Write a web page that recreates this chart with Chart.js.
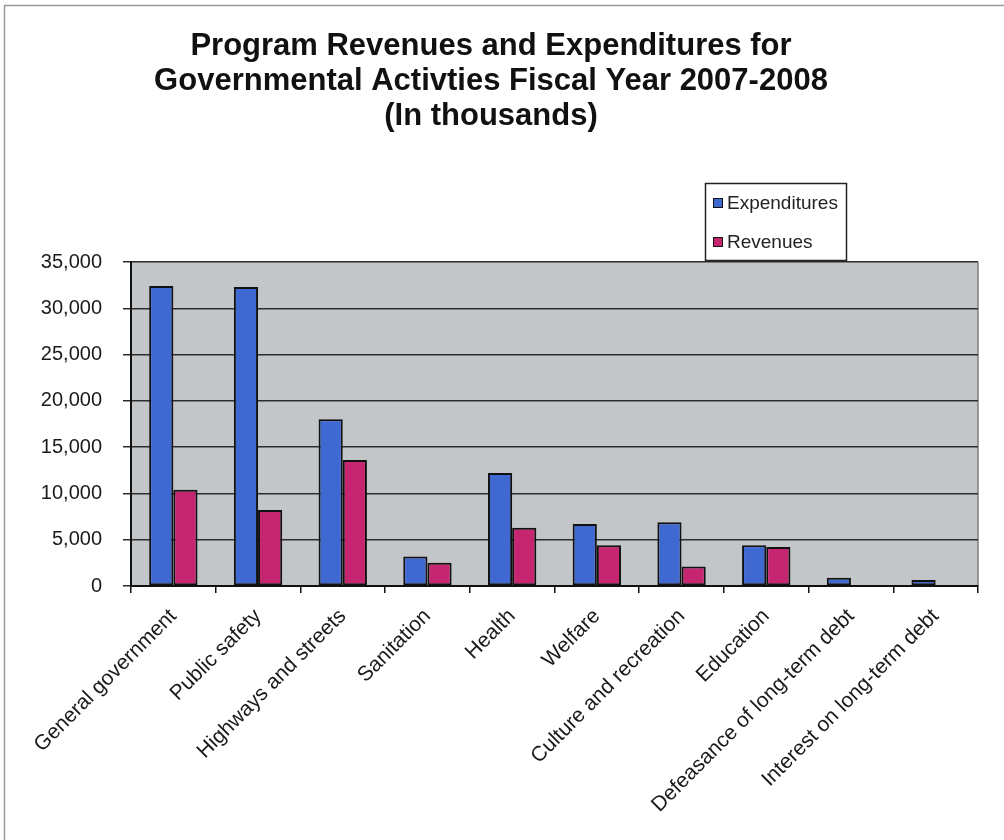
<!DOCTYPE html>
<html>
<head>
<meta charset="utf-8">
<script src="https://cdn.jsdelivr.net/npm/chart.js@4/dist/chart.umd.min.js"></script>
<style>
    html, body { margin: 0; padding: 0; background: #fff; }
    #wrap { width: 1004px; height: 840px; }
</style>
</head>
<body>
<div id="wrap"><canvas id="programChart" width="1004" height="840"></canvas></div>
<script>
const categories = [
    'General government', 'Public safety', 'Highways and streets', 'Sanitation', 'Health',
    'Welfare', 'Culture and recreation', 'Education', 'Defeasance of long-term debt', 'Interest on long-term debt'
];
const expenditures = [32400, 32300, 18000, 3200, 12200, 6700, 6900, 4400, 900, 650];
const revenues = [10400, 8200, 13600, 2500, 6300, 4400, 2100, 4200, 0, 0];
const yTicks = [0, 5000, 10000, 15000, 20000, 25000, 30000, 35000];
const titleLines = [
    'Program Revenues and Expenditures for',
    'Governmental Activties Fiscal Year 2007-2008',
    '(In thousands)'
];

const fontFamily = "'Liberation Sans', Arial, sans-serif";

// grey plot area, outer frame and the title
const chartFrame = {
    id: 'chartFrame',
    beforeDraw(chart) {
        const ctx = chart.ctx;
        const a = chart.chartArea;
        ctx.save();
        ctx.fillStyle = '#ffffff';
        ctx.fillRect(0, 0, chart.width, chart.height);
        ctx.strokeStyle = '#9a9a9a';
        ctx.lineWidth = 1.5;
        ctx.beginPath();
        ctx.moveTo(4.5, chart.height);
        ctx.lineTo(4.5, 5.5);
        ctx.lineTo(chart.width, 5.5);
        ctx.stroke();

        ctx.fillStyle = '#c3c6c8';
        ctx.fillRect(a.left, a.top, a.right - a.left, a.bottom - a.top);
        ctx.strokeStyle = '#7c7c7c';
        ctx.lineWidth = 1.5;
        ctx.beginPath();
        ctx.moveTo(a.right, a.top);
        ctx.lineTo(a.right, a.bottom);
        ctx.stroke();

        ctx.fillStyle = '#111';
        ctx.font = 'bold 31px ' + fontFamily;
        ctx.textAlign = 'center';
        ctx.textBaseline = 'alphabetic';
        titleLines.forEach((line, i) => {
            ctx.fillText(line, 491, 55 + i * 35);
        });
        ctx.restore();
    }
};

// boxed legend above the plot, one entry per row
const boxLegend = {
    id: 'boxLegend',
    afterDraw(chart) {
        const ctx = chart.ctx;
        ctx.save();
        ctx.fillStyle = '#fff';
        ctx.fillRect(705, 183, 142, 77);
        ctx.strokeStyle = '#222';
        ctx.lineWidth = 1.5;
        ctx.strokeRect(705.5, 183.5, 141, 77);
        ctx.font = '19px ' + fontFamily;
        ctx.textBaseline = 'middle';
        ctx.textAlign = 'left';
        chart.data.datasets.forEach((ds, i) => {
            const y = 203 + i * 39;
            ctx.fillStyle = ds.backgroundColor;
            ctx.fillRect(713, y - 5, 10, 10);
            ctx.strokeStyle = '#111';
            ctx.lineWidth = 1;
            ctx.strokeRect(713.5, y - 4.5, 9, 9);
            ctx.fillStyle = '#222';
            ctx.fillText(ds.label, 727, y + 1);
        });
        ctx.restore();
    }
};

const ctx = document.getElementById('programChart').getContext('2d');
const myChart = new Chart(ctx, {
    type: 'bar',
    plugins: [chartFrame, boxLegend],
    data: {
        labels: categories,
        datasets: [
            {
                label: 'Expenditures',
                data: expenditures,
                backgroundColor: '#3f68d1',
                borderColor: '#111',
                borderWidth: 2,
                borderSkipped: false,
                categoryPercentage: 0.571,
                barPercentage: 1.0
            },
            {
                label: 'Revenues',
                data: revenues,
                backgroundColor: '#c62570',
                borderColor: '#111',
                borderWidth: 2,
                borderSkipped: false,
                categoryPercentage: 0.571,
                barPercentage: 1.0
            }
        ]
    },
    options: {
        responsive: false,
        animation: false,
        layout: {
            padding: { top: 262, left: 0, right: 26, bottom: 0 }
        },
        plugins: {
            legend: { display: false },
            title: { display: false },
            tooltip: { enabled: false }
        },
        scales: {
            x: {
                offset: true,
                grid: {
                    offset: true,
                    drawOnChartArea: false,
                    drawTicks: true,
                    tickLength: 7,
                    color: '#111',
                    lineWidth: 1.5
                },
                border: { color: '#111', width: 2 },
                ticks: {
                    autoSkip: false,
                    minRotation: 45,
                    maxRotation: 45,
                    padding: 11,
                    color: '#1a1a1a',
                    font: { family: fontFamily, size: 21 }
                },
                afterFit(scale) {
                    scale.height = 254;
                }
            },
            y: {
                min: 0,
                max: 35000,
                afterBuildTicks(scale) {
                    scale.ticks = yTicks.map(v => ({ value: v }));
                },
                grid: {
                    color: '#2c2c2c',
                    lineWidth: 1.5,
                    tickLength: 8
                },
                border: { color: '#111', width: 2 },
                ticks: {
                    padding: 21,
                    color: '#1a1a1a',
                    font: { family: fontFamily, size: 20 },
                    callback: function(value) {
                        return value.toLocaleString('en-US');
                    }
                },
                afterFit(scale) {
                    scale.width = 131;
                }
            }
        }
    }
});
</script>
</body>
</html>
